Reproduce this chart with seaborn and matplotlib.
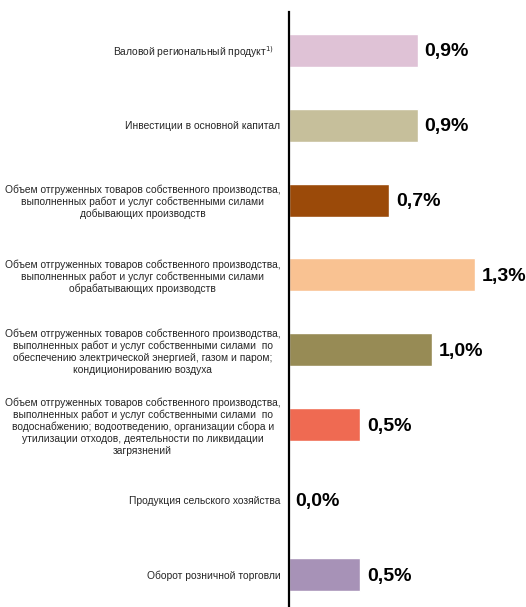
import matplotlib
matplotlib.use("Agg")
import pandas as pd
import matplotlib.pyplot as plt
import seaborn as sns

# данные
categories = [
    "Валовой региональный продукт$^{1)}$   ",
    "Инвестиции в основной капитал",
    "Объем отгруженных товаров собственного производства,\nвыполненных работ и услуг собственными силами\nдобывающих производств",
    "Объем отгруженных товаров собственного производства,\nвыполненных работ и услуг собственными силами\nобрабатывающих производств",
    "Объем отгруженных товаров собственного производства,\nвыполненных работ и услуг собственными силами  по\nобеспечению электрической энергией, газом и паром;\nкондиционированию воздуха",
    "Объем отгруженных товаров собственного производства,\nвыполненных работ и услуг собственными силами  по\nводоснабжению; водоотведению, организации сбора и\nутилизации отходов, деятельности по ликвидации\nзагрязнений",
    "Продукция сельского хозяйства",
    "Оборот розничной торговли",
]
values = [0.9, 0.9, 0.7, 1.3, 1.0, 0.5, 0.0, 0.5]
colors = ["#DFC2D6", "#C6BF9B", "#9B4A09", "#F9C292", "#978B55", "#EF6A52", "#FFFFFF", "#A792B7"]

df = pd.DataFrame({"cat": categories, "val": values})

sns.set_style("white")
plt.rcParams["font.family"] = ["Liberation Sans", "DejaVu Sans"]

fig = plt.figure(figsize=(5.26, 6.07), dpi=100)
ax = fig.add_axes([0.549, 0.0, 0.451, 0.98])

sns.barplot(data=df, x="val", y="cat", hue="cat", palette=colors, legend=False,
            orient="h", width=0.44, saturation=1, ax=ax)

# подписи значений
for i, v in enumerate(values):
    ax.annotate(f"{v:.1f}%".replace(".", ","), xy=(v, i), xytext=(5, -1),
                textcoords="offset points", ha="left", va="center",
                fontsize=14, fontweight="bold", color="black")

ax.set_xlim(0, 1.657)
ax.set_ylim(7.43, -0.507)
ax.set_xlabel("")
ax.set_ylabel("")
ax.set_xticks([])
ax.tick_params(axis="y", length=0, pad=6, labelsize=7.4)
for lbl in ax.get_yticklabels():
    lbl.set_multialignment("center")

for s in ["top", "right", "bottom"]:
    ax.spines[s].set_visible(False)
ax.spines["left"].set_color("black")
ax.spines["left"].set_linewidth(1.6)

fig.savefig("out.png", dpi=100)
